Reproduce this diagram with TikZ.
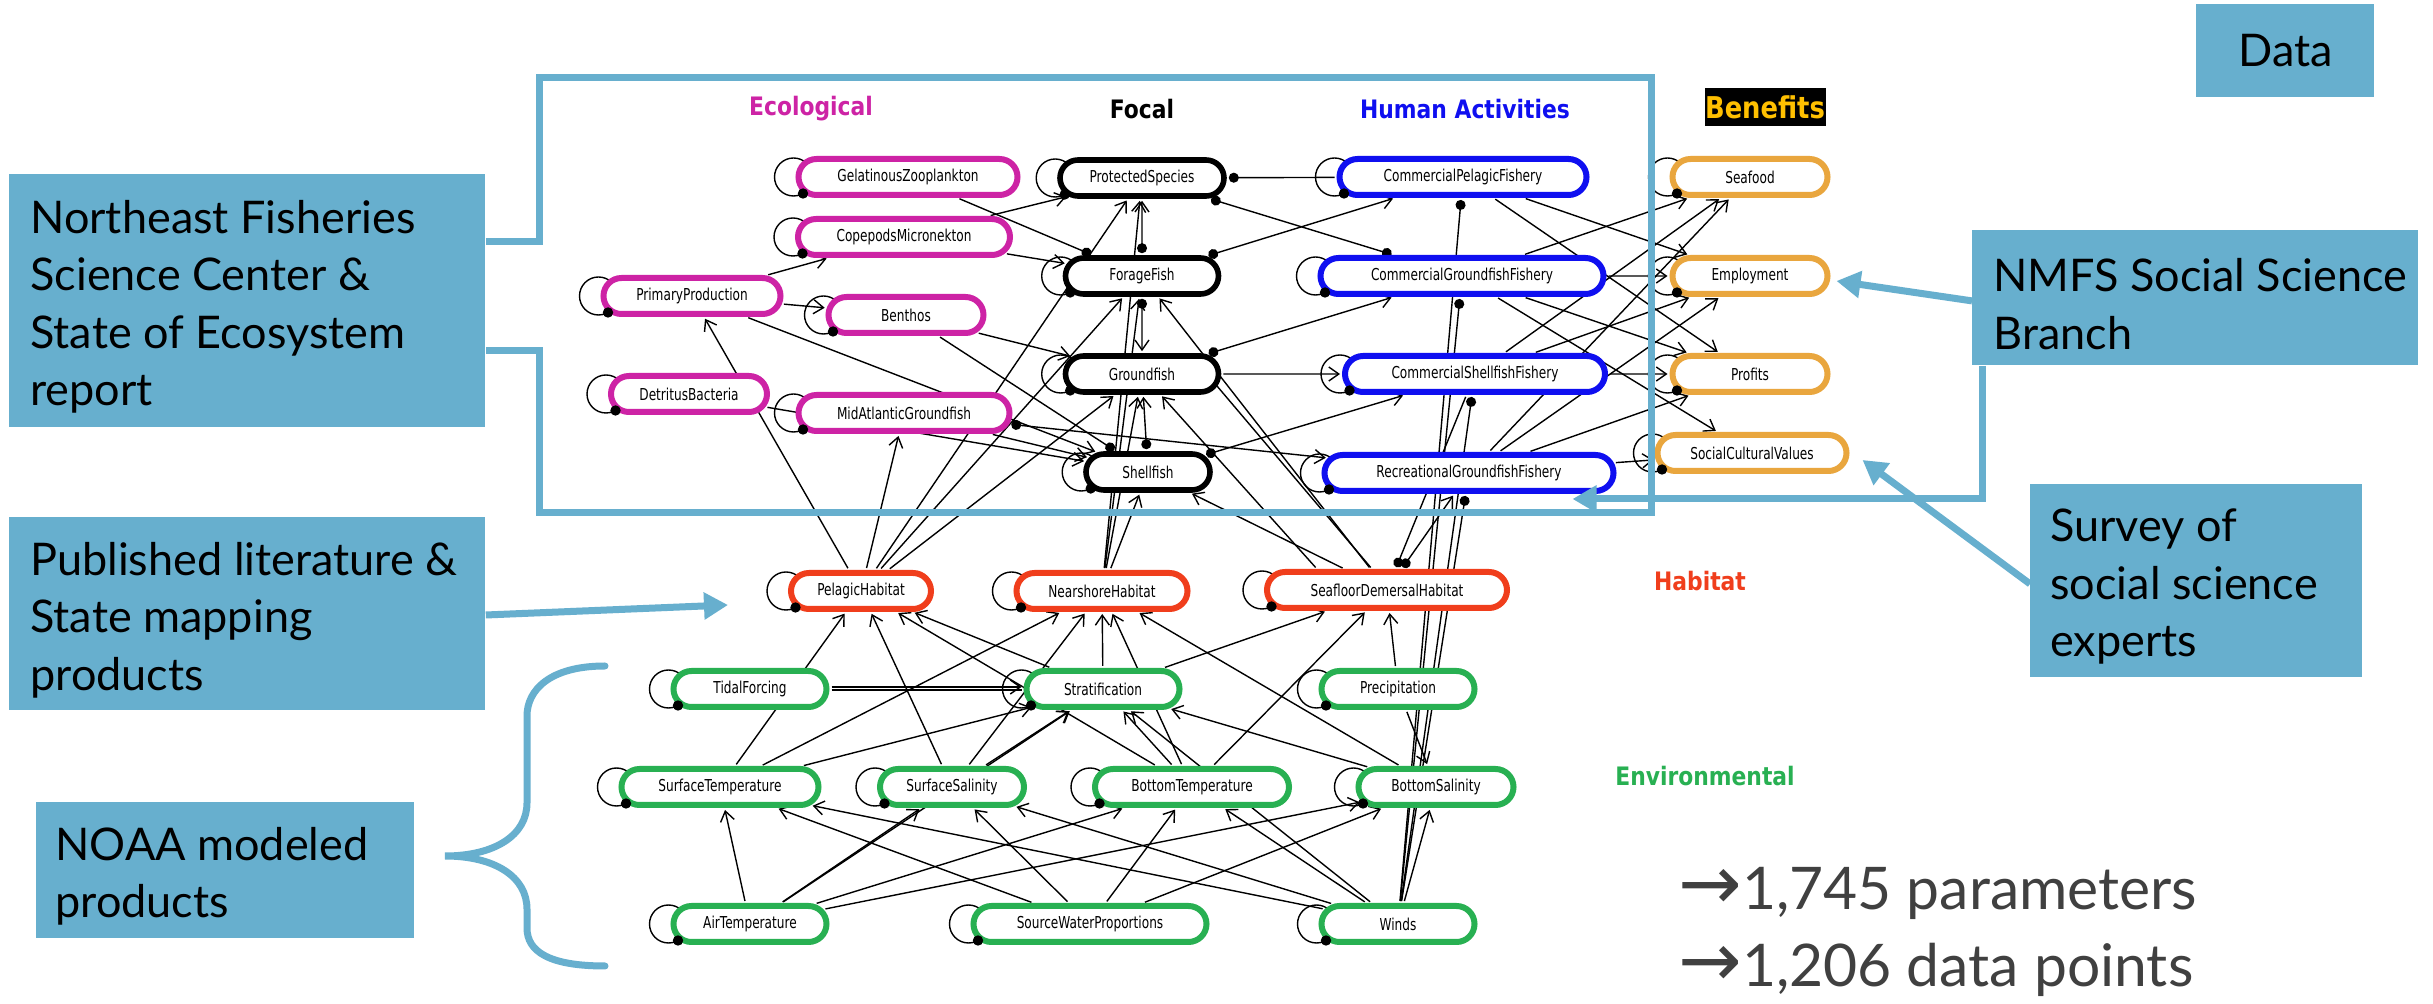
\documentclass[tikz,border=0pt]{standalone}
\usepackage{fontspec}
\setmainfont{Lato}
\newfontfamily\nodefont[FakeStretch=0.74]{DejaVu Sans}
\newfontfamily\headfont[FakeStretch=0.86]{DejaVu Sans}
\newfontfamily\symfont{DejaVu Sans}
\usetikzlibrary{shapes.misc,arrows.meta,calc}
\pgfdeclarelayer{bglayer}
\pgfdeclarelayer{edgelayer}
\pgfsetlayers{bglayer,edgelayer,main}
\definecolor{ecolc}{RGB}{205,35,165}
\definecolor{humc}{RGB}{15,15,240}
\definecolor{benc}{RGB}{233,166,62}
\definecolor{habc}{RGB}{240,62,28}
\definecolor{envc}{RGB}{40,176,82}
\definecolor{callc}{RGB}{103,175,206}
\definecolor{goldc}{RGB}{255,192,0}
\definecolor{statc}{RGB}{64,64,64}
\tikzset{
  gnode/.style={rounded rectangle, draw, line width=3pt, fill=white, minimum height=18pt, inner sep=0pt, font=\nodefont\fontsize{8.2}{9}\selectfont},
  ecol/.style={gnode, draw=ecolc},
  focal/.style={gnode, draw=black, line width=2.8pt},
  hum/.style={gnode, draw=humc},
  ben/.style={gnode, draw=benc},
  hab/.style={gnode, draw=habc},
  env/.style={gnode, draw=envc},
  head/.style={font=\headfont\bfseries\fontsize{12.7}{14}\selectfont, inner sep=0pt},
  ed/.style={line width=0.7pt, shorten >=1pt, shorten <=1pt},
  ea/.style={ed, -{Straight Barb[length=5pt,width=7pt]}},
  edt/.style={ed, -{Circle[length=5pt]}},
  eda/.style={ed, {Circle[length=5pt]}-{Straight Barb[length=5pt,width=7pt]}},
  edd/.style={ed, {Circle[length=5pt]}-{Circle[length=5pt]}},
  loopline/.style={line width=0.7pt},
  callbox/.style={fill=callc, inner sep=0pt, anchor=north west},
  calltext/.style={align=left, inner sep=0pt, anchor=west, font=\fontsize{22.5}{28.75}\selectfont},
  callbar/.style={draw=callc, line width=3.5pt},
  callarrow/.style={callbar, -{Triangle[length=12pt,width=13pt]}},
  stattext/.style={anchor=base west, text=statc, font=\fontsize{29.4}{36}\selectfont, inner sep=0pt},
}
\newcommand\gn[6]{\node[#1, minimum width={(#5-6)*0.5pt}] (#2) at (#3,#4) {#6};}
\newcommand\sloop[1]{\draw[loopline] ($(#1.west)+(-2,0)$) circle[radius=9.5pt];}
\newcommand\sdot[1]{\fill ($(#1.west)+(7.5,16.5)$) circle[radius=2.6pt];}
\newcommand\statarrow{{\symfont\fontsize{38}{36}\selectfont →}}
\begin{document}
\begin{tikzpicture}[x=0.5pt,y=-0.5pt]
\useasboundingbox (0,0) rectangle (2433,1004);
\begin{pgfonlayer}{bglayer}
\fill[white] (0,0) rectangle (2433,1004);
\end{pgfonlayer}

% ---------------- graph nodes
\gn{ecol}{gz}{908}{177}{225}{GelatinousZooplankton}
\gn{ecol}{cm}{904}{237}{218}{CopepodsMicronekton}
\gn{ecol}{pp}{692}{296}{183}{PrimaryProduction}
\gn{ecol}{be}{906}{315}{161}{Benthos}
\gn{ecol}{db}{689}{394}{162}{DetritusBacteria}
\gn{ecol}{ma}{904}{413}{217}{MidAtlanticGroundfish}
\gn{focal}{ps}{1142}{178}{170}{ProtectedSpecies}
\gn{focal}{ff}{1142}{276}{159}{ForageFish}
\gn{focal}{gf}{1142}{374}{159}{Groundfish}
\gn{focal}{sf}{1148}{472}{130}{Shellfish}
\gn{hum}{cp}{1463}{177}{253}{CommercialPelagicFishery}
\gn{hum}{cg}{1462}{276}{289}{CommercialGroundfishFishery}
\gn{hum}{cs}{1475}{374}{266}{CommercialShellfishFishery}
\gn{hum}{rg}{1469}{473}{295}{RecreationalGroundfishFishery}
\gn{ben}{sea}{1750}{177}{161}{Seafood}
\gn{ben}{emp}{1750}{276}{161}{Employment}
\gn{ben}{pro}{1750}{374}{161}{Profits}
\gn{ben}{scv}{1752}{453}{195}{SocialCulturalValues}
\gn{hab}{ph}{861}{591}{146}{PelagicHabitat}
\gn{hab}{nh}{1102}{591}{177}{NearshoreHabitat}
\gn{hab}{sd}{1387}{590}{246}{SeafloorDemersalHabitat}
\gn{env}{tf}{750}{689}{159}{TidalForcing}
\gn{env}{st}{1103}{689}{159}{Stratification}
\gn{env}{pr}{1398}{689}{159}{Precipitation}
\gn{env}{sT}{720}{787}{203}{SurfaceTemperature}
\gn{env}{ss}{952}{787}{150}{SurfaceSalinity}
\gn{env}{bt}{1192}{787}{200}{BottomTemperature}
\gn{env}{bs}{1436}{787}{161}{BottomSalinity}
\gn{env}{at}{750}{924}{159}{AirTemperature}
\gn{env}{sw}{1090}{924}{239}{SourceWaterProportions}
\gn{env}{wi}{1398}{924}{159}{Winds}

% ---------------- headers
\node[head, text=ecolc] (hEco) at (811,109) {Ecological};
\node[head] (hFoc) at (1142,109) {Focal};
\node[head, text=humc] (hHum) at (1465,109) {Human Activities};
\node[head, fill=black, text=goldc, font=\headfont\bfseries\fontsize{15}{17}\selectfont, minimum width=60.5pt, minimum height=19pt] (hBen) at (1765,107) {Benefits};
\node[head, text=habc] (hHab) at (1700,581) {Habitat};
\node[head, text=envc] (hEnv) at (1705,776) {Environmental};

% ---------------- edges and loops
\begin{pgfonlayer}{edgelayer}
\foreach \n in {gz,cm,pp,be,db,ma,ps,ff,gf,sf,cp,cg,cs,rg,sea,emp,pro,scv,ph,nh,sd,tf,st,pr,sT,ss,bt,bs,at,sw,wi}{\sloop{\n}}
% ecological
\draw[ea] (pp) -- (cm);
\draw[ea] (pp) -- (be);
\draw[ea] (ph) -- (pp);
\draw[ea] (cm) -- (ps);
\draw[ea] (cm) -- (ff);
\draw[edt] (gz) -- (ff);
\draw[ea] (be) -- (gf);
\draw[edt] (be) -- (sf);
\draw[ea] (db) -- (sf);
\draw[ea] (pp) -- (sf);
\draw[eda] (ma) -- (rg);
\draw[ea] (ma) -- (sf);
\draw[ea] (ph) -- (ma);
% focal
\draw[eda] (ff) -- (ps);
\draw[eda] (ff) -- (gf);
\draw[eda] (sf) -- (gf);
\draw[ea] (ph) -- (ps);
\draw[ea] (ph) -- (ff);
\draw[ea] (ph) -- (gf);
\draw[ea] (nh) -- (sf);
\draw[ea] (nh) -- (gf);
\draw[ea] (nh) -- (ff);
\draw[ea] (nh) -- (ps);
\draw[ea] (sd) -- (sf);
\draw[ea] ($(sd.north)+(-70,0)$) -- (gf);
\draw[ea] (sd) -- (ff);
\draw[ed] ($(gf.east)+(-6,10)$) -- ($(sd.north)+(-15,0)$);
% human activities
\draw[edt] (cp) -- (ps);
\draw[edd] (ps) -- (cg);
\draw[eda] (ff) -- (cp);
\draw[eda] (gf) -- (cg);
\draw[ea] (gf) -- (cs);
\draw[eda] (sf) -- (cs);
\draw[edt] (wi) -- (cp);
\draw[edt] (wi) -- (cg);
\draw[edt] (wi) -- (cs);
\draw[edt] (wi) -- (rg);
\draw[eda] (sd) -- (rg);
\draw[edt] (cs) -- (sd);
% benefits
\draw[ea] (cp) -- (emp);
\draw[ea] (cp) -- (pro);
\draw[ea] (cg) -- (sea);
\draw[ea] (cg) -- (emp);
\draw[ea] (cg) -- (pro);
\draw[ea] (cg) -- (scv);
\draw[ea] (cs) -- (sea);
\draw[ea] (cs) -- (emp);
\draw[ea] (cs) -- (pro);
\draw[ea] (rg) -- (sea);
\draw[ea] (rg) -- (emp);
\draw[ea] (rg) -- (pro);
\draw[ea] (rg) -- (scv);
% environment to habitat
\draw[ea] (sT) -- (ph);
\draw[ea] (ss) -- (ph);
\draw[ea] (bt) -- (ph);
\draw[ea] (st) -- (ph);
\draw[ea] (sT) -- (nh);
\draw[ea] (ss) -- (nh);
\draw[ea] (st) -- (nh);
\draw[ea] (bt) -- (nh);
\draw[ea] (bs) -- (nh);
\draw[ea] (st) -- (sd);
\draw[ea] (bt) -- (sd);
\draw[ea] (pr) -- (sd);
% environment
\draw[ea] ([yshift=1pt]tf.east) -- ([yshift=1pt]st.west);
\draw[ed] ([yshift=-0.5pt]tf.east) -- ([yshift=-0.5pt]st.west);
\draw[ea] (sT) -- (st);
\draw[ea] (ss) -- (st);
\draw[ea] (at) -- (st);
\draw[ea] (bt) -- (st);
\draw[ea] (bs) -- (st);
\draw[ea] (wi) -- (st);
\draw[ea] (pr) -- (bs);
\draw[ea] (at) -- (sT);
\draw[ea] (at) -- (ss);
\draw[ea] (at) -- (bt);
\draw[ea] (at) -- (bs);
\draw[ea] (sw) -- (sT);
\draw[ea] (sw) -- (ss);
\draw[ea] (sw) -- (bt);
\draw[ea] (sw) -- (bs);
\draw[ea] (wi) -- (sT);
\draw[ea] (wi) -- (ss);
\draw[ea] (wi) -- (bt);
\draw[ea] (wi) -- (bs);
\end{pgfonlayer}
\foreach \n in {gz,cm,pp,be,db,ma,ps,ff,gf,sf,cp,cg,cs,rg,sea,emp,pro,scv,ph,nh,sd,tf,st,pr,sT,ss,bt,bs,at,sw,wi}{\sdot{\n}}

% ---------------- callouts
\node[callbox, minimum width=238pt, minimum height=126.5pt] (nefsc) at (9,174) {};
\node[calltext] (nefscT) at ($(nefsc.west)+(21,6)$) {Northeast Fisheries\\Science Center \&\\State of Ecosystem\\report};
\node[callbox, minimum width=238pt, minimum height=96.5pt] (publit) at (9,517) {};
\node[calltext] (publitT) at ($(publit.west)+(21,6)$) {Published literature \&\\State mapping\\products};
\node[callbox, minimum width=189pt, minimum height=68pt] (noaa) at (36,802) {};
\node[calltext] (noaaT) at ($(noaa.west)+(19,6)$) {NOAA modeled\\products};
\node[callbox, minimum width=223pt, minimum height=67.5pt] (nmfs) at (1972,230) {};
\node[calltext] (nmfsT) at ($(nmfs.west)+(21,6)$) {NMFS Social Science\\Branch};
\node[callbox, minimum width=166pt, minimum height=96.5pt] (survey) at (2030,484) {};
\node[calltext] (surveyT) at ($(survey.west)+(20,6)$) {Survey of\\social science\\experts};
\node[callbox, minimum width=89pt, minimum height=46.5pt] (data) at (2196,4) {};
\node[calltext, anchor=center] (dataT) at (data.center) {Data};

% stats
\node[stattext] (stat1) at (1678,910) {\statarrow1,745 parameters};
\node[stattext] (stat2) at (1678,987) {\statarrow1,206 data points};

% ---------------- blue frame and connectors
\coordinate (rTL) at (539,78);
\coordinate (rTR) at (1651,78);
\coordinate (rBR) at (1651,513);
\coordinate (rBL) at (539,513);
\draw[callbar] (nefsc.east |- 0,242) -- (539,242) -- (rTL) -- (rTR) -- (rBR) -- (rBL) -- (539,351) -- (nefsc.east |- 0,351);
\coordinate (publitTip) at (728,605);
\draw[callarrow] (publit.east |- 0,615) -- (publitTip);
\draw[callarrow] ($(nmfs.west)+(0,3)$) -- ($(emp.east)+(6,5)$);
\draw[callarrow] ($(nmfs.south west)+(10,0)$) |- ($(rg.east)+(-44,26)$);
\draw[callarrow] ($(survey.west)+(0,3)$) -- ($(scv.east)+(13,7)$);
\draw[callbar, line cap=round] (605,666) .. controls (550,666) and (527,690) .. (527,716) -- (527,803) .. controls (527,835) and (495,856) .. (445,856) .. controls (495,856) and (527,877) .. (527,909) -- (527,928) .. controls (527,952) and (550,966) .. (605,966);
\end{tikzpicture}
\end{document}
